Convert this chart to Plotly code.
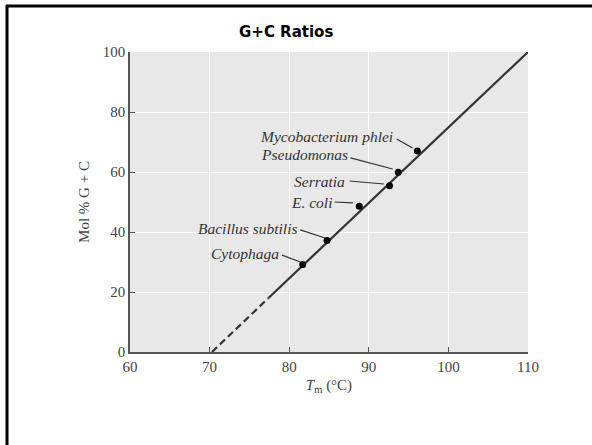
import plotly.graph_objects as go

# Data
organisms = ["Cytophaga", "Bacillus subtilis", "E. coli", "Serratia", "Pseudomonas", "Mycobacterium phlei"]
tm_values = [81.7, 84.75, 88.8, 92.6, 93.7, 96.1]
gc_values = [29.2, 37.2, 48.6, 55.4, 59.9, 67.0]
# label text anchor (right end) and leader line ends, in data units
label_x = [79.0, 81.2, 85.6, 87.3, 87.6, 93.3]
label_y = [33.0, 41.3, 49.7, 57.0, 65.7, 71.7]
leader_x0 = [79.1, 81.4, 85.7, 87.6, 87.7, 93.5]
leader_y0 = [32.3, 40.7, 50.0, 57.0, 64.7, 71.0]
leader_x1 = [81.4, 84.5, 88.0, 91.9, 93.0, 95.5]
leader_y1 = [30.0, 38.0, 49.7, 56.0, 61.0, 68.0]

line_dash_x = [70.3, 77.4]
line_dash_y = [0, 18]
line_solid_x = [77.4, 110]
line_solid_y = [18, 100]

x_ticks = [60, 70, 80, 90, 100, 110]
y_ticks = [0, 20, 40, 60, 80, 100]

serif = "Liberation Serif"

fig = go.Figure()
fig.add_trace(go.Scatter(x=line_dash_x, y=line_dash_y, mode="lines",
                         line=dict(color="#333333", width=2.2, dash="7px,4px"),
                         hoverinfo="skip", showlegend=False))
fig.add_trace(go.Scatter(x=line_solid_x, y=line_solid_y, mode="lines",
                         line=dict(color="#333333", width=2.2),
                         hoverinfo="skip", showlegend=False))
for i in range(len(organisms)):
    fig.add_trace(go.Scatter(x=[leader_x0[i], leader_x1[i]], y=[leader_y0[i], leader_y1[i]],
                             mode="lines", line=dict(color="#333333", width=1.2),
                             hoverinfo="skip", showlegend=False))
fig.add_trace(go.Scatter(x=tm_values, y=gc_values, mode="markers",
                         marker=dict(color="black", size=7),
                         text=organisms, showlegend=False))

for i, name in enumerate(organisms):
    fig.add_annotation(x=label_x[i], y=label_y[i], text="<i>" + name + "</i>",
                       showarrow=False, xanchor="right", yanchor="middle",
                       font=dict(family=serif, size=15.5, color="#333333"))

fig.add_annotation(xref="paper", yref="paper", x=0.393, y=1.067,
                   text="<b>G+C Ratios</b>", showarrow=False,
                   xanchor="center", yanchor="middle",
                   font=dict(family="DejaVu Sans", size=15, color="black"))

# page border (top and left)
fig.add_shape(type="line", xref="paper", yref="paper", x0=-0.312, x1=1.2, y0=1.153, y1=1.153,
              line=dict(color="black", width=3))
fig.add_shape(type="line", xref="paper", yref="paper", x0=-0.309, x1=-0.309, y0=1.155, y1=-0.35,
              line=dict(color="black", width=3))

fig.update_layout(
    width=592, height=445,
    margin=dict(l=130, r=64, t=52, b=93),
    paper_bgcolor="white",
    plot_bgcolor="#e8e8e8",
    font=dict(family=serif, size=15, color="#444444"),
    xaxis=dict(range=[60, 110], tickvals=x_ticks, ticktext=[str(v) for v in x_ticks],
               showgrid=True, gridcolor="white", gridwidth=1, zeroline=False,
               showline=True, linecolor="#555555", linewidth=1.5,
               ticks="inside", ticklen=5, tickcolor="#555555",
               tickfont=dict(family=serif, size=15, color="#444444"),
               title=dict(text="<i>T</i><sub>m</sub> (°C)", standoff=6,
                          font=dict(family=serif, size=15, color="#444444"))),
    yaxis=dict(range=[0, 100], tickvals=y_ticks, ticktext=[str(v) for v in y_ticks],
               showgrid=True, gridcolor="white", gridwidth=1, zeroline=False,
               showline=True, linecolor="#555555", linewidth=1.5,
               ticks="inside", ticklen=5, tickcolor="#555555",
               tickfont=dict(family=serif, size=15, color="#444444"),
               title=dict(text="Mol % G + C", standoff=10,
                          font=dict(family=serif, size=15, color="#444444"))),
)

fig.write_html("out.html", config={"displayModeBar": False},
               post_script="document.body.style.margin='0';")
